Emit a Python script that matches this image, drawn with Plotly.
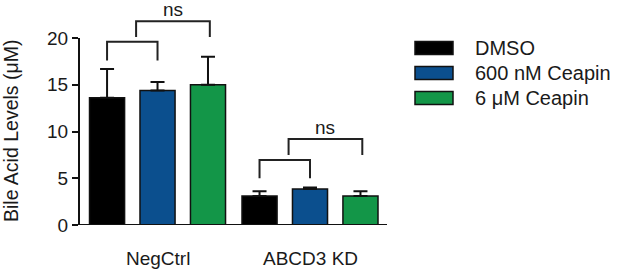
import plotly.graph_objects as go

categories = ["NegCtrl", "ABCD3 KD"]
series_names = ["DMSO", "600 nM Ceapin", "6 \u03bcM Ceapin"]
colors = ["#000000", "#0b4f8e", "#139648"]
values = {
    "DMSO": [13.6, 3.1],
    "600 nM Ceapin": [14.4, 3.85],
    "6 \u03bcM Ceapin": [15.0, 3.1],
}
errors = {
    "DMSO": [3.1, 0.5],
    "600 nM Ceapin": [0.9, 0.15],
    "6 \u03bcM Ceapin": [3.0, 0.5],
}
y_ticks = [0, 5, 10, 15, 20]
sig_label = "ns"
# bracket heights (y of lower bracket bar, lower legs bottom, upper bar, upper legs bottom)
brackets = {
    "NegCtrl": [19.6, 17.6, 21.8, 20.1],
    "ABCD3 KD": [6.95, 5.0, 9.2, 7.5],
}

FONT = "Liberation Sans, Arial, Helvetica, sans-serif"
TXT = "#1a1a1a"
spacing = 0.331
bw = 0.23

L, T, R, B = 79, 10, 387, 225  # plot area in window pixels
FIG_W, FIG_H = 617, 272

fig = go.Figure()
for i, name in enumerate(series_names):
    fig.add_trace(go.Bar(
        x=[0, 1], y=values[name], name=name,
        width=bw, offset=-bw / 2 + (i - 1) * spacing,
        marker=dict(color=colors[i], line=dict(color="#111111", width=1.5)),
        error_y=dict(type="data", array=errors[name], arrayminus=[0, 0],
                     symmetric=False, color="#111111", thickness=2, width=7),
        showlegend=False,
    ))

plot_w = float(R - L)
plot_h = float(B - T)
def px_x(px):
    return (px - L) / plot_w
def px_y(py):
    return (B - py) / plot_h

shapes = []
annotations = []
lw = dict(color="#222222", width=2)
for gi, cat in enumerate(categories):
    c0 = gi - spacing
    c1 = gi
    c2 = gi + spacing
    yb, yl, yb2, yl2 = brackets[cat]
    shapes.append(dict(type="path", xref="x", yref="y",
                       path=f"M {c0},{yl} L {c0},{yb} L {c1},{yb} L {c1},{yl}", line=lw))
    ux0 = (c0 + c1) / 2 + 0.025
    ux1 = c2 + 0.012
    shapes.append(dict(type="path", xref="x", yref="y",
                       path=f"M {ux0},{yl2} L {ux0},{yb2} L {ux1},{yb2} L {ux1},{yl2}", line=lw))
    annotations.append(dict(x=(ux0 + ux1) / 2, y=yb2, xref="x", yref="y", text=sig_label,
                            showarrow=False, yanchor="bottom", yshift=-1,
                            font=dict(family=FONT, size=19, color=TXT)))
    annotations.append(dict(x=gi, y=px_y(258.5), xref="x", yref="paper", text=cat,
                            showarrow=False, yanchor="middle",
                            font=dict(family=FONT, size=19, color=TXT)))

# y axis line from 0 to 20
shapes.append(dict(type="line", xref="paper", yref="y", x0=0, x1=0, y0=0, y1=20,
                   line=dict(color="#111111", width=2)))
# x axis line
shapes.append(dict(type="line", xref="paper", yref="y", x0=0, x1=1, y0=0, y1=0,
                   line=dict(color="#111111", width=2)))

# manual legend
row_y = [48, 73, 98]
for i, name in enumerate(series_names):
    shapes.append(dict(type="rect", xref="paper", yref="paper",
                       x0=px_x(415), x1=px_x(453), y0=px_y(row_y[i] + 6.5), y1=px_y(row_y[i] - 6.5),
                       fillcolor=colors[i], line=dict(color="#111111", width=1.5)))
    annotations.append(dict(x=px_x(473), y=px_y(row_y[i]), xref="paper", yref="paper",
                            text=name, showarrow=False, xanchor="left", yanchor="middle",
                            font=dict(family=FONT, size=20, color=TXT)))

annotations.append(dict(x=px_x(11), y=px_y(131), xref="paper", yref="paper",
                        text="Bile Acid Levels (\u03bcM)", textangle=-90, showarrow=False,
                        xanchor="center", yanchor="middle",
                        font=dict(family=FONT, size=19.5, color=TXT)))

fig.update_layout(
    width=FIG_W, height=FIG_H,
    margin=dict(l=L, r=FIG_W - R, t=T, b=FIG_H - B),
    paper_bgcolor="white", plot_bgcolor="white",
    barmode="overlay",
    shapes=shapes, annotations=annotations,
    xaxis=dict(range=[-0.515, 1.505], showticklabels=False, showgrid=False,
               zeroline=False, showline=False, ticks=""),
    yaxis=dict(range=[0, 23], tickvals=y_ticks, ticks="outside", ticklen=6, tickwidth=2,
               tickcolor="#111111", showgrid=False, zeroline=False, showline=False,
               tickfont=dict(family=FONT, size=19, color=TXT)),
)

fig.write_html("out.html", config={"displayModeBar": False},
               post_script="document.body.style.margin='0px';document.body.style.overflow='hidden';")
